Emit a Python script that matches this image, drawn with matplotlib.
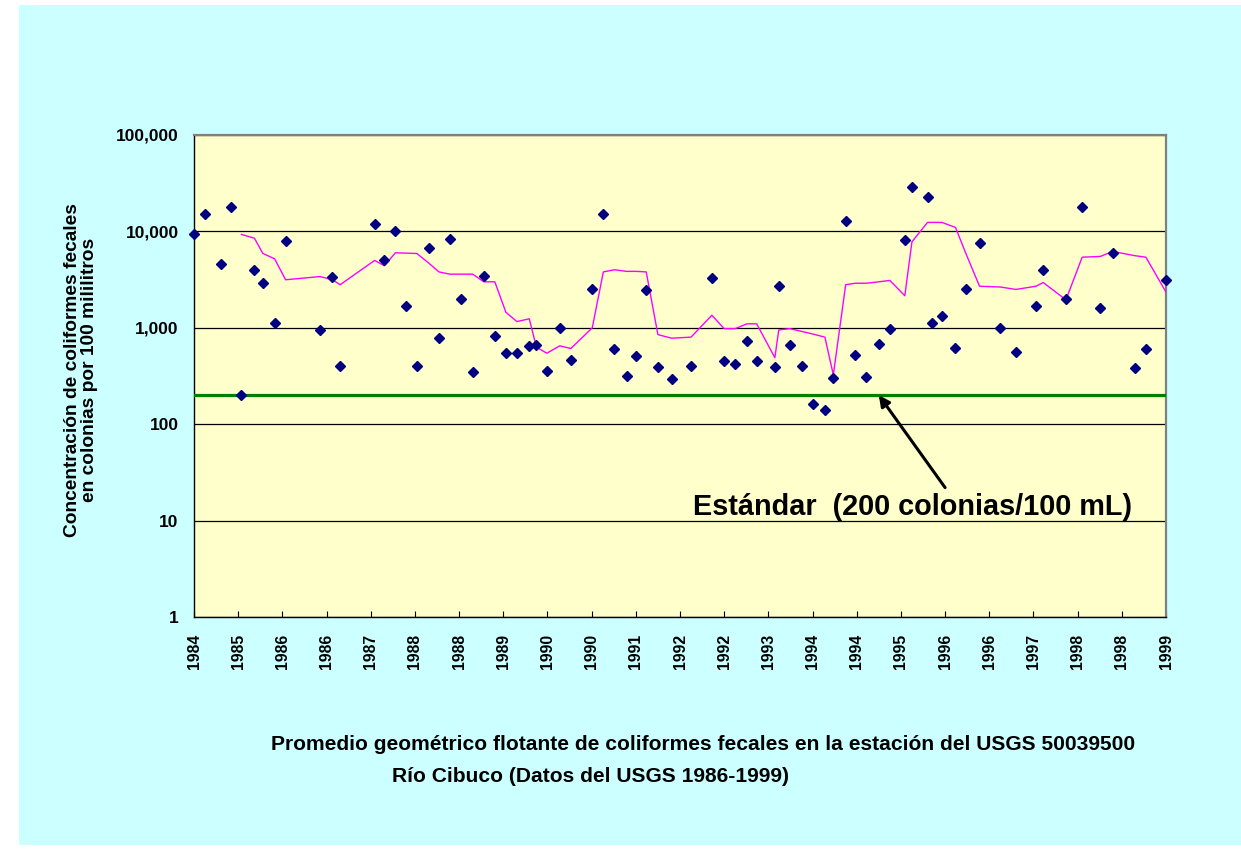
import numpy as np
import matplotlib
matplotlib.use("Agg")
import matplotlib.pyplot as plt
from matplotlib.patches import Rectangle
from matplotlib.ticker import FixedLocator, FuncFormatter

# sample dates (decimal years) and fecal coliform counts (col/100 mL)
dates = [1984.70, 1984.87, 1985.12, 1985.27, 1985.43, 1985.63, 1985.76, 1985.94,
         1986.11, 1986.64, 1986.83, 1986.95, 1987.48, 1987.63, 1987.80, 1987.96,
         1988.13, 1988.32, 1988.47, 1988.64, 1988.81, 1988.99, 1989.16, 1989.33,
         1989.50, 1989.67, 1989.86, 1989.97, 1990.13, 1990.33, 1990.50, 1990.83,
         1991.00, 1991.17, 1991.36, 1991.51, 1991.66, 1991.84, 1992.05, 1992.35,
         1992.67, 1992.86, 1993.03, 1993.21, 1993.36, 1993.64, 1993.70, 1993.87,
         1994.06, 1994.23, 1994.41, 1994.54, 1994.73, 1994.88, 1995.05, 1995.24,
         1995.41, 1995.64, 1995.75, 1995.99, 1996.06, 1996.21, 1996.42, 1996.58,
         1996.79, 1997.11, 1997.35, 1997.66, 1997.77, 1998.12, 1998.37, 1998.65,
         1998.84, 1999.18, 1999.35, 1999.66]
counts = [9300, 15100, 4550, 17800, 200, 4000, 2900, 1120,
          7900, 950, 3400, 400, 12000, 5000, 10000, 1700,
          400, 6700, 780, 8400, 2000, 345, 3450, 830,
          550, 550, 640, 660, 355, 1000, 465, 2500,
          15100, 600, 320, 510, 2450, 390, 295, 400,
          3250, 450, 420, 730, 450, 390, 2700, 660,
          405, 163, 142, 300, 12900, 525, 310, 680,
          980, 8200, 29000, 23000, 1120, 1320, 620, 2500,
          7600, 1000, 565, 1700, 4000, 2000, 17800, 1600,
          6000, 380, 600, 3150]
# running geometric mean (starts at the 5th sample)
geomean = [np.nan, np.nan, np.nan, np.nan, 9300, 8500, 5900, 5200,
           3150, 3400, 3150, 2800, 5000, 4400, 6000, 5950,
           5900, 4650, 3800, 3600, 3600, 3600, 3000, 3000,
           1450, 1160, 1240, 630, 545, 650, 610, 1000,
           3800, 4000, 3850, 3850, 3800, 850, 780, 800,
           1350, 980, 980, 1100, 1100, 490, 950, 980,
           915, 860, 800, 325, 2800, 2900, 2900, 3000,
           3100, 2150, 7800, 12400, 12400, 12400, 11000, 5900,
           2700, 2650, 2500, 2700, 2950, 1950, 5400, 5500,
           6200, 5600, 5400, 2350]

standard = 200
year_labels = ["1984", "1985", "1986", "1986", "1987", "1988", "1988", "1989",
               "1990", "1990", "1991", "1992", "1992", "1993", "1994", "1994",
               "1995", "1996", "1996", "1997", "1998", "1998", "1999"]
x_start, x_end = 1984.70, 1999.66

W, H = 1241, 851
plt.rcParams["font.family"] = ["Liberation Sans", "DejaVu Sans"]
plt.rcParams["font.weight"] = "bold"

fig = plt.figure(figsize=(W / 100, H / 100), dpi=100)
fig.patch.set_facecolor("white")
fig.patches.append(Rectangle((19 / W, 1 - 845 / H), 1 - 19 / W, (845 - 5) / H,
                             transform=fig.transFigure, facecolor="#CCFFFF",
                             edgecolor="none", zorder=-10))

ax = fig.add_axes([194 / W, 1 - 617 / H, (1166 - 194) / W, (617 - 135) / H])
ax.set_facecolor("#FFFFCC")
ax.set_yscale("log")
ax.set_ylim(1, 100000)
ax.set_xlim(x_start, x_end)

ax.yaxis.set_major_locator(FixedLocator([1, 10, 100, 1000, 10000, 100000]))
ax.yaxis.set_minor_locator(FixedLocator([]))
ax.yaxis.set_major_formatter(FuncFormatter(lambda v, p: f"{int(round(v)):,}"))
ax.grid(axis="y", which="major", color="black", lw=0.9, zorder=1)

ax.set_xticks(np.linspace(x_start, x_end, len(year_labels)))
ax.set_xticklabels(year_labels, rotation=90, fontsize=11.3, fontweight="bold")
ax.tick_params(axis="x", direction="in", length=4, width=0.8, pad=12)
ax.tick_params(axis="y", length=0, pad=11, labelsize=12.5)
for t in ax.get_yticklabels():
    t.set_fontweight("bold")

for s in ("top", "right"):
    ax.spines[s].set_color("#808080")
    ax.spines[s].set_linewidth(1.6)
for s in ("left", "bottom"):
    ax.spines[s].set_color("black")
    ax.spines[s].set_linewidth(1.0)

ax.axhline(standard, color="#008000", lw=2.3, zorder=3)
ax.plot(dates, geomean, color="#FF00FF", lw=1.0, zorder=4)
ax.plot(dates, counts, ls="none", marker="D", ms=4.8, color="#000080",
        mec="#000080", zorder=5, clip_on=False)

ax.annotate("", xy=(1995.24, standard), xytext=(1996.26, 22),
            arrowprops=dict(arrowstyle="-|>", color="black", lw=2.2,
                            mutation_scale=16, shrinkA=0, shrinkB=0),
            zorder=6)
fig.text(693 / W, 1 - 507 / H, "Estándar  (200 colonias/100 mL)",
         fontsize=20.8, fontweight="bold", ha="left", va="center")

fig.text(81 / W, 1 - 370 / H,
         "Concentración de coliformes fecales\nen colonias por 100 mililitros",
         rotation=90, fontsize=13.8, fontweight="bold", ha="center", va="center",
         multialignment="center", linespacing=1.05)

fig.text(271 / W, 1 - 745 / H,
         "Promedio geométrico flotante de coliformes fecales en la estación del USGS 50039500",
         fontsize=15.1, fontweight="bold", ha="left", va="center")
fig.text(392 / W, 1 - 776 / H, "Río Cibuco (Datos del USGS 1986-1999)",
         fontsize=15.1, fontweight="bold", ha="left", va="center")

fig.savefig("out.png", dpi=100, facecolor=fig.get_facecolor())
